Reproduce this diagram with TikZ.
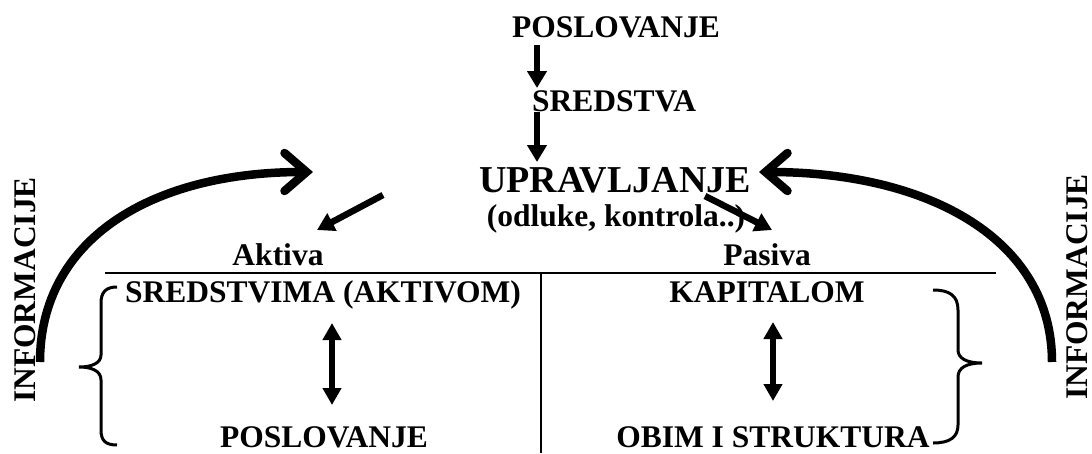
\documentclass[tikz,border=0pt]{standalone}
\usepackage{fontspec}
\setmainfont{Liberation Serif}
\usetikzlibrary{arrows.meta}
\begin{document}
\begin{tikzpicture}[x=1pt,y=-1pt,
 lbl/.style={font=\fontsize{31.5}{36}\selectfont\bfseries, inner sep=0pt, anchor=base},
 big/.style={font=\fontsize{38}{42}\selectfont\bfseries, inner sep=0pt, anchor=base},
 vert/.style={lbl, rotate=90},
 darr/.style={line width=6.5pt, -{Triangle[length=17pt,width=19pt]}},
 dbl/.style={line width=5.5pt, {Triangle[length=17pt,width=18pt]}-{Triangle[length=17pt,width=18pt]}},
 info/.style={line width=8.5pt, -{Straight Barb[length=22pt,width=38pt,line cap=round]}},
 bracestyle/.style={line width=3pt},
 rulestyle/.style={line width=2pt}]
\path[use as bounding box] (0,0) rectangle (1092,453);

% texts
\node[lbl] (poslTop) at (616,37) {POSLOVANJE};
\node[lbl] (sred) at (614,111) {SREDSTVA};
\node[big] (upr) at (615,192) {UPRAVLJANJE};
\node[lbl] (odl) at (616,226) {(odluke, kontrola..)};
\node[lbl] (akt) at (278,265) {Aktiva};
\node[lbl] (pas) at (767,265) {Pasiva};
\node[lbl] (sa) at (323,302) {SREDSTVIMA (AKTIVOM)};
\node[lbl] (kap) at (767,302) {KAPITALOM};
\node[lbl] (posl) at (324,447) {POSLOVANJE};
\node[lbl] (obim) at (773,447) {OBIM I STRUKTURA};
\node[vert] (infL) at (35,290) {INFORMACIJE};
\node[vert] (infR) at (1087,287) {INFORMACIJE};

% connector end points
\coordinate (a1s) at (537,45);
\coordinate (a1e) at (537,88);
\coordinate (a2s) at (537,112);
\coordinate (a2e) at (537,162);
\coordinate (dls) at (383,195);
\coordinate (dle) at (317,230);
\coordinate (drs) at (705,196);
\coordinate (dre) at (772,230);
\coordinate (lvs) at (332,323);
\coordinate (lve) at (332,405);
\coordinate (rvs) at (773,322);
\coordinate (rve) at (773,401);
\coordinate (ils) at (40,362);
\coordinate (ile) at (313,172);
\coordinate (irs) at (1052,362);
\coordinate (ire) at (759,172);

% table rules
\draw[rulestyle] (105,273) -- (996,273);
\draw[rulestyle] (541,273) -- (541,453);

% arrows
\draw[darr] (a1s) -- (a1e);
\draw[darr] (a2s) -- (a2e);
\draw[darr] (dls) -- (dle);
\draw[darr] (drs) -- (dre);
\draw[dbl] (lvs) -- (lve);
\draw[dbl] (rvs) -- (rve);
\draw[info] (ils) .. controls (40,240) and (150,172) .. (ile);
\draw[info] (irs) .. controls (1052,240) and (930,172) .. (ire);

% braces
\draw[bracestyle] (117,287) .. controls (106,287) and (101,292) .. (101,303) -- (101,355) .. controls (101,363) and (92,367) .. (79,367) .. controls (92,367) and (101,371) .. (101,380) -- (101,430) .. controls (101,441) and (106,445) .. (117,445);
\draw[bracestyle] (933,290) .. controls (950,290) and (958,296) .. (958,310) -- (958,350) .. controls (958,358) and (966,363) .. (982,363) .. controls (966,363) and (958,368) .. (958,377) -- (958,425) .. controls (958,437) and (950,443) .. (933,443);
\end{tikzpicture}
\end{document}
